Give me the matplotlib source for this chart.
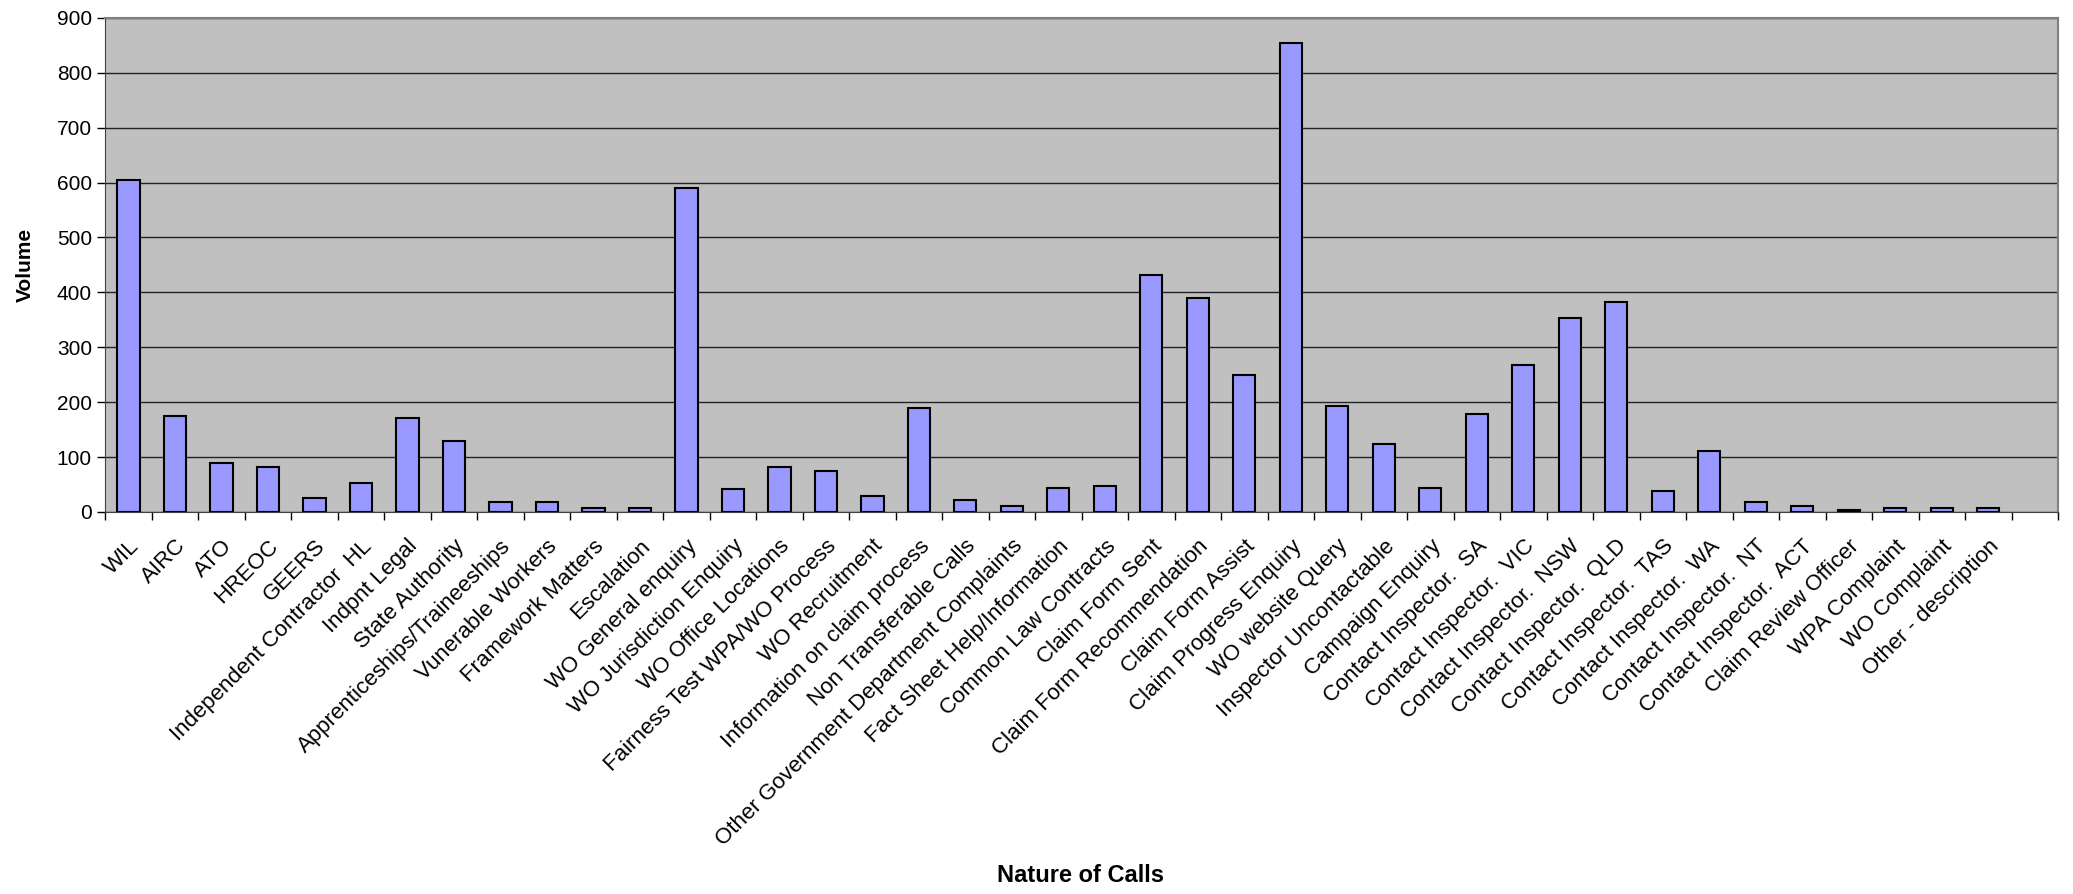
import matplotlib.pyplot as plt
import matplotlib.transforms as mtransforms
import numpy as np

plt.rcParams['font.family'] = ['Liberation Sans', 'DejaVu Sans']

categories = [
    "WIL", "AIRC", "ATO", "HREOC", "GEERS", "Independent Contractor  HL",
    "Indpnt Legal", "State Authority", "Apprenticeships/Traineeships",
    "Vunerable Workers", "Framework Matters", "Escalation",
    "WO General enquiry", "WO Jurisdiction Enquiry", "WO Office Locations",
    "Fairness Test WPA/WO Process", "WO Recruitment",
    "Information on claim process", "Non Transferable Calls",
    "Other Government Department Complaints", "Fact Sheet Help/Information",
    "Common Law Contracts", "Claim Form Sent", "Claim Form Recommendation",
    "Claim Form Assist", "Claim Progress Enquiry", "WO website Query",
    "Inspector Uncontactable", "Campaign Enquiry",
    "Contact Inspector.  SA", "Contact Inspector.  VIC",
    "Contact Inspector.  NSW", "Contact Inspector.  QLD",
    "Contact Inspector.  TAS", "Contact Inspector.  WA",
    "Contact Inspector.  NT", "Contact Inspector.  ACT",
    "Claim Review Officer", "WPA Complaint", "WO Complaint",
    "Other - description", "",
]
volume = [
    605, 174, 89, 82, 25, 52, 171, 130, 18, 18, 7, 7,
    590, 41, 82, 74, 30, 190, 22, 11, 44, 48, 431, 390,
    249, 854, 193, 123, 44, 178, 268, 353, 383, 38, 111, 18,
    11, 4, 7, 7, 7, 0,
]

fig = plt.figure(figsize=(20.73, 8.94), dpi=100)
ax = fig.add_axes([0.0507, 0.4273, 0.9421, 0.5527])

x = np.arange(len(categories))
has_bar = np.array([c != "" for c in categories])
ax.set_facecolor('#C0C0C0')
ax.bar(x[has_bar], np.array(volume)[has_bar], width=0.48, color='#9999FF',
       edgecolor='black', linewidth=1.5, zorder=3)

ax.set_xlim(-0.5, len(categories) - 0.5)
ax.set_ylim(0, 900)
ax.set_yticks(range(0, 901, 100))
ax.yaxis.grid(True, color='#222222', linewidth=1.0, zorder=1)
ax.set_axisbelow(True)

ax.set_xticks(x)
ax.set_xticklabels(categories, rotation=45, ha='right',
                   rotation_mode='anchor', fontsize=16)
# nudge the slanted labels down and to the left of each bar
shift = mtransforms.ScaledTranslation(-20 / 100, 0, fig.dpi_scale_trans)
for lbl in ax.get_xticklabels():
    lbl.set_transform(lbl.get_transform() + shift)
ax.set_xticks(np.arange(-0.5, len(categories), 1), minor=True)
ax.tick_params(axis='x', which='major', length=0, pad=17)
ax.tick_params(axis='x', which='minor', length=6, width=1, color='black',
               direction='out')
ax.tick_params(axis='y', labelsize=15, length=6, width=1, direction='out')

for side in ['top', 'right']:
    ax.spines[side].set_color('#808080')
    ax.spines[side].set_linewidth(1.5)
ax.spines['left'].set_color('#404040')
ax.spines['bottom'].set_color('#404040')

ax.set_ylabel("Volume", fontsize=15, fontweight='bold', labelpad=16)
fig.text(0.521, 0.008, "Nature of Calls", fontsize=17, fontweight='bold',
         ha='center', va='bottom')

fig.savefig('out.png', dpi=100)
